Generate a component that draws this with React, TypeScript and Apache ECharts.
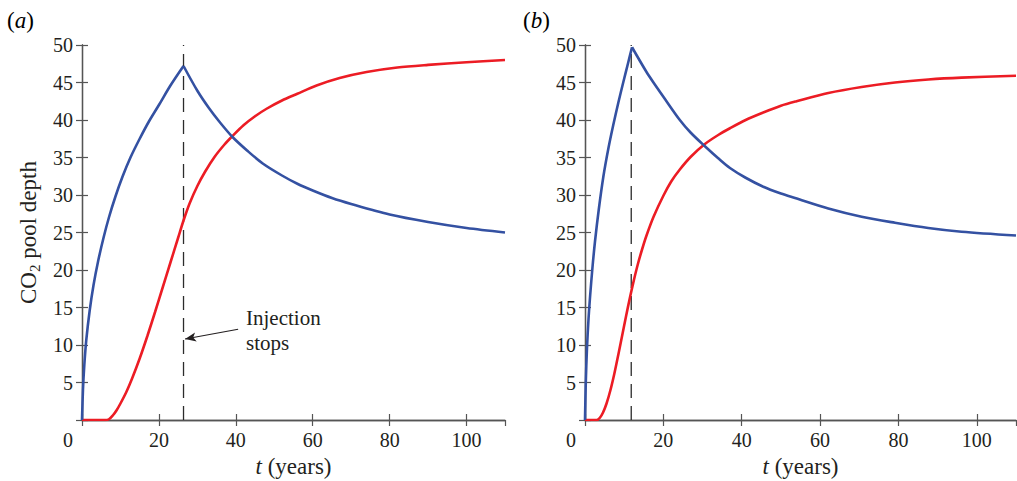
import { useEffect, useRef } from "react";
import * as echarts from "echarts";

// ---- Panel (a): long injection ----
const riseTimeA = [0, 0.25, 0.6, 1.1, 2.0, 3.0, 4.2, 5.6, 7.0, 8.7, 10.5, 12.6, 15.0, 17.4, 20.0, 23.0, 26.4];
const riseDepthA = [0, 4.0, 7.3, 10.6, 14.6, 18.0, 21.2, 24.3, 27.0, 29.8, 32.4, 35.0, 37.5, 39.8, 42.0, 44.6, 47.2];
const fallTimeA = [26.4, 30, 33, 36, 39.2, 43, 47, 52, 56, 60, 65, 70, 80, 90, 100, 110];
const fallDepthA = [47.2, 43.9, 41.6, 39.6, 37.7, 35.9, 34.2, 32.6, 31.5, 30.6, 29.6, 28.8, 27.4, 26.4, 25.6, 25.0];
const redTimeA = [0, 6.0, 7, 8, 9, 10, 11.5, 13, 15, 17, 19, 21, 23, 25, 26.4, 28, 30, 32, 34.5, 37, 39.2, 42, 45, 48, 52, 56, 61, 67, 74, 82, 90, 100, 110];
const redDepthA = [0, 0, 0.1, 0.6, 1.3, 2.2, 3.7, 5.5, 8.2, 11.2, 14.4, 17.7, 21.0, 24.3, 26.6, 28.9, 31.2, 33.1, 35.1, 36.7, 37.9, 39.3, 40.5, 41.5, 42.6, 43.5, 44.6, 45.6, 46.4, 47.0, 47.35, 47.7, 48.0];
const stopTimeA = 26.4;

// ---- Panel (b): short injection ----
const riseTimeB = [0, 0.2, 0.5, 0.9, 1.3, 1.9, 2.55, 3.5, 4.7, 6.0, 7.2, 8.5, 9.8, 11.0, 12.0];
const riseDepthB = [0, 5.0, 9.5, 13.5, 16.5, 20.3, 23.8, 28.0, 32.5, 36.3, 39.3, 42.3, 45.1, 47.6, 49.7];
const fallTimeB = [12.0, 15.7, 18, 20, 24.2, 27, 30.6, 34, 37, 41, 45.5, 50, 53.6, 62.1, 70.6, 79.1, 87.6, 96.1, 110];
const fallDepthB = [49.7, 46.4, 44.6, 43.1, 40.0, 38.3, 36.5, 34.9, 33.6, 32.3, 31.1, 30.2, 29.6, 28.2, 27.1, 26.3, 25.6, 25.1, 24.6];
const redTimeB = [0, 3.0, 3.8, 4.6, 5.5, 6.5, 7.5, 8.5, 9.5, 10.5, 11.5, 12.5, 13.5, 14.6, 15.7, 17.5, 20, 22, 24.2, 27, 30.6, 34, 37, 41, 45.5, 50, 54, 62.1, 70.6, 79.1, 87.6, 96.1, 110];
const redDepthB = [0, 0, 0.3, 1.0, 2.2, 4.0, 6.2, 8.7, 11.3, 13.9, 16.4, 18.7, 20.8, 22.8, 24.6, 27.1, 29.9, 31.8, 33.4, 35.1, 36.8, 38.0, 38.9, 40.0, 41.0, 41.9, 42.5, 43.6, 44.4, 45.0, 45.4, 45.65, 45.9];
const stopTimeB = 11.8;

// ---- Axes ----
const T_MIN = 0;
const T_MAX = 110;
const T_STEP = 20;
const DEPTH_MIN = 0;
const DEPTH_MAX = 50;
const DEPTH_STEP = 5;

// Annotation arrow (data coordinates) and its text
const arrowFrom = [40.6, 12.1];
const arrowTo = [26.8, 10.8];
const noteText = "Injection\nstops";

const SERIF = '"Liberation Serif", "Times New Roman", Times, serif';
const INK = "#231f20";
const AXIS = "#555555";
const BLUE = "#3451a2";
const RED = "#ec1c24";

const zip = (t: number[], v: number[]) => t.map((x, i) => [x, v[i]]);

function axesFor(grid: number, withYName: boolean) {
  const line = { lineStyle: { color: AXIS, width: 1.3 } };
  const tick = { show: true, inside: true, length: 6, lineStyle: { color: AXIS, width: 1.2 } };
  const xBottom: any = {
    type: "value",
    gridIndex: grid,
    position: "bottom",
    min: T_MIN,
    max: T_MAX,
    interval: T_STEP,
    axisLine: line,
    axisTick: tick,
    splitLine: { show: false },
    axisLabel: {
      fontFamily: SERIF,
      fontSize: 20,
      color: INK,
      margin: 10,
      showMaxLabel: false,
      formatter: (v: number) => (v === 0 ? "{z|0}" : String(v)),
      rich: { z: { fontFamily: SERIF, fontSize: 20, color: INK, padding: [0, 28, 0, 0] } },
    },
    name: "{i|t}{n| (years)}",
    nameLocation: "middle",
    nameGap: 33,
    nameTextStyle: {
      rich: {
        i: { fontFamily: SERIF, fontSize: 23, fontStyle: "italic", color: INK },
        n: { fontFamily: SERIF, fontSize: 23, color: INK },
      },
    },
  };
  const xTop: any = {
    type: "value",
    gridIndex: grid,
    position: "top",
    min: T_MIN,
    max: T_MAX,
    interval: T_STEP,
    axisLine: line,
    axisTick: tick,
    axisLabel: { show: false },
    splitLine: { show: false },
  };
  const yLeft: any = {
    type: "value",
    gridIndex: grid,
    position: "left",
    min: DEPTH_MIN,
    max: DEPTH_MAX,
    interval: DEPTH_STEP,
    axisLine: { show: true, ...line },
    axisTick: tick,
    splitLine: { show: false },
    axisLabel: {
      fontFamily: SERIF,
      fontSize: 20,
      color: INK,
      margin: 9,
      formatter: (v: number) => (v === 0 ? "" : String(v)),
    },
  };
  if (withYName) {
    yLeft.name = "{n|CO}{s|2}{n| pool depth}";
    yLeft.nameLocation = "middle";
    yLeft.nameRotate = 90;
    yLeft.nameGap = 40;
    yLeft.nameTextStyle = {
      rich: {
        n: { fontFamily: SERIF, fontSize: 23, color: INK, lineHeight: 28 },
        s: { fontFamily: SERIF, fontSize: 15, color: INK, lineHeight: 15, verticalAlign: "bottom" },
      },
    };
  }
  const yRight: any = {
    type: "value",
    gridIndex: grid,
    position: "right",
    min: DEPTH_MIN,
    max: DEPTH_MAX,
    interval: DEPTH_STEP,
    axisLine: { show: true, ...line },
    axisTick: tick,
    axisLabel: { show: false },
    splitLine: { show: false },
  };
  return { x: [xBottom, xTop], y: [yLeft, yRight] };
}

function curve(data: number[][], color: string, axis: number) {
  return {
    type: "line",
    xAxisIndex: axis,
    yAxisIndex: axis,
    data,
    smooth: 0.3,
    showSymbol: false,
    symbol: "none",
    silent: true,
    lineStyle: { color, width: 2.6 },
    z: 3,
  };
}

function stopLine(t: number, axis: number, extra: any = {}) {
  return {
    type: "line",
    xAxisIndex: axis,
    yAxisIndex: axis,
    data: [
      [t, DEPTH_MIN],
      [t, DEPTH_MAX],
    ],
    showSymbol: false,
    symbol: "none",
    silent: true,
    lineStyle: { color: "#2b2b2b", width: 1.3, type: [14, 8] },
    z: 2,
    ...extra,
  };
}

export default function App() {
  const ref = useRef<HTMLDivElement>(null);

  useEffect(() => {
    if (!ref.current) return;
    const chart = echarts.init(ref.current, null, { renderer: "svg" });
    const a = axesFor(0, true);
    const b = axesFor(1, false);

    const panelLabel = (letter: string, x: number) => ({
      type: "text",
      x,
      y: 20,
      style: {
        text: `{p|(}{i|${letter}}{p|)}`,
        verticalAlign: "middle",
        rich: {
          p: { fontFamily: SERIF, fontSize: 23, color: INK },
          i: { fontFamily: SERIF, fontSize: 23, fontStyle: "italic", color: INK },
        },
      },
    });

    chart.setOption({
      animation: false,
      backgroundColor: "#ffffff",
      grid: [
        { left: 82, top: 45, width: 423, height: 375, outerBoundsMode: "none" },
        { left: 585, top: 45, width: 431, height: 375, outerBoundsMode: "none" },
      ],
      xAxis: [...a.x, ...b.x],
      yAxis: [...a.y, ...b.y],
      series: [
        stopLine(stopTimeA, 0, {
          markLine: {
            silent: true,
            symbol: ["none", "arrow"],
            symbolSize: [7, 11],
            label: { show: false },
            lineStyle: { color: INK, width: 1.2, type: "solid" },
            data: [[{ coord: arrowFrom }, { coord: arrowTo }]],
          },
        }),
        curve(zip(redTimeA, redDepthA), RED, 0),
        curve(zip(riseTimeA, riseDepthA), BLUE, 0),
        curve(zip(fallTimeA, fallDepthA), BLUE, 0),
        stopLine(stopTimeB, 2),
        curve(zip(redTimeB, redDepthB), RED, 2),
        curve(zip(riseTimeB, riseDepthB), BLUE, 2),
        curve(zip(fallTimeB, fallDepthB), BLUE, 2),
      ],
      graphic: [
        panelLabel("a", 7),
        panelLabel("b", 523),
        {
          type: "text",
          x: 246,
          y: 330,
          style: {
            text: noteText,
            fontFamily: SERIF,
            fontSize: 21,
            lineHeight: 25,
            fill: INK,
            align: "left",
            verticalAlign: "middle",
          },
        },
      ],
    });
    return () => chart.dispose();
  }, []);

  return (
    <div
      ref={ref}
      style={{ position: "absolute", left: 0, top: 0, width: 1017, height: 481, background: "#fff" }}
    />
  );
}
